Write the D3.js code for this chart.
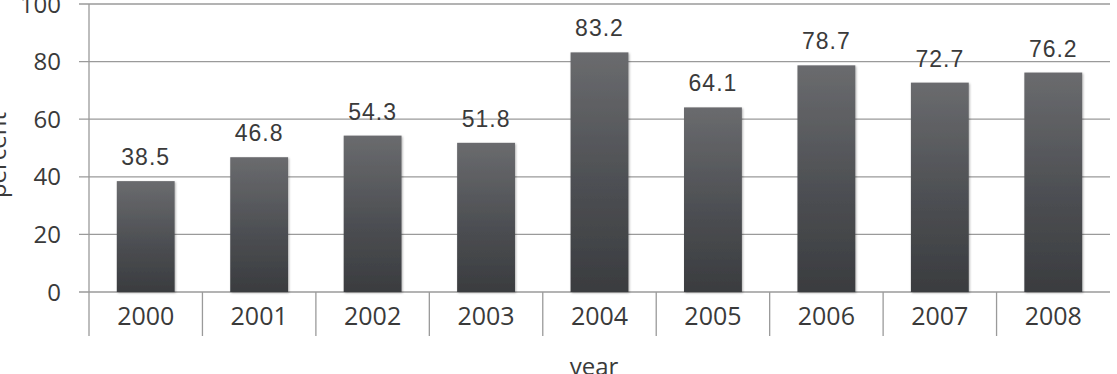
<!DOCTYPE html>
<html>
<head>
<meta charset="utf-8">
<script src="https://cdn.jsdelivr.net/npm/d3@7"></script>
<style>
  body { margin: 0; background: #fff; }
  svg text { fill: #3a3a3a; }
</style>
</head>
<body>
<div id="myChart"></div>
<script>
// values
var years = ['2000', '2001', '2002', '2003', '2004', '2005', '2006', '2007', '2008'];
var percent = [38.5, 46.8, 54.3, 51.8, 83.2, 64.1, 78.7, 72.7, 76.2];
var yTicks = [0, 20, 40, 60, 80, 100];

var data = years.map(function(y, i) { return { year: y, value: percent[i] }; });

var width = 1117, height = 374;
var plotLeft = 89, plotRight = 1110, plotTop = 4, plotBottom = 292;

var svg = d3.select("#myChart").append("svg")
    .attr("width", width)
    .attr("height", height);

var defs = svg.append("defs");
var grad = defs.append("linearGradient")
    .attr("id", "barGrad")
    .attr("x1", 0).attr("y1", 0).attr("x2", 0).attr("y2", 1);
grad.append("stop").attr("offset", "0%").attr("stop-color", "#6a6b6e");
grad.append("stop").attr("offset", "55%").attr("stop-color", "#4d4f53");
grad.append("stop").attr("offset", "100%").attr("stop-color", "#3a3c3f");

var shadow = defs.append("filter").attr("id", "shadow")
    .attr("x", "-10%").attr("y", "-10%").attr("width", "120%").attr("height", "120%");
shadow.append("feDropShadow")
    .attr("dx", 1).attr("dy", 1).attr("stdDeviation", 1.2)
    .attr("flood-color", "#000").attr("flood-opacity", 0.3);

var x = d3.scaleBand()
    .domain(years)
    .range([plotLeft, plotRight])
    .paddingInner(0.49)
    .paddingOuter(0.245);

var xSep = d3.scaleBand().domain(years).range([plotLeft, plotRight]);

var y = d3.scaleLinear()
    .domain([0, 100])
    .range([plotBottom, plotTop]);

// gridlines
svg.append("g")
  .selectAll("line")
  .data(yTicks)
  .enter()
  .append("line")
    .attr("x1", plotLeft - 10)
    .attr("x2", plotRight)
    .attr("y1", function(d) { return y(d); })
    .attr("y2", function(d) { return y(d); })
    .attr("stroke", "#9a9a9a")
    .attr("stroke-width", 1.3);

// y tick labels
svg.append("g")
  .selectAll("text")
  .data(yTicks)
  .enter()
  .append("text")
    .attr("x", 61)
    .attr("y", function(d) { return y(d); })
    .attr("dy", "0.36em")
    .attr("text-anchor", "end")
    .style("font-family", "'Open Sans', sans-serif")
    .style("font-size", "24px")
    .text(function(d) { return d; });

// left axis line
svg.append("line")
    .attr("x1", plotLeft).attr("x2", plotLeft)
    .attr("y1", plotTop).attr("y2", 336)
    .attr("stroke", "#9a9a9a")
    .attr("stroke-width", 1.3);

// category separators below the axis
svg.append("g")
  .selectAll("line")
  .data(years.slice(1))
  .enter()
  .append("line")
    .attr("x1", function(d) { return xSep(d); })
    .attr("x2", function(d) { return xSep(d); })
    .attr("y1", plotBottom)
    .attr("y2", 336)
    .attr("stroke", "#9a9a9a")
    .attr("stroke-width", 1.3);

// bars
svg.append("g")
  .selectAll("rect")
  .data(data)
  .enter()
  .append("rect")
    .attr("x", function(d) { return x(d.year); })
    .attr("width", x.bandwidth())
    .attr("y", function(d) { return y(d.value); })
    .attr("height", function(d) { return plotBottom - y(d.value); })
    .attr("fill", "url(#barGrad)")
    .attr("filter", "url(#shadow)");

// value labels
svg.append("g")
  .selectAll("text")
  .data(data)
  .enter()
  .append("text")
    .attr("x", function(d) { return x(d.year) + x.bandwidth() / 2; })
    .attr("y", function(d) { return y(d.value) - 16; })
    .attr("text-anchor", "middle")
    .style("font-family", "'Liberation Sans', Arial, sans-serif")
    .style("font-size", "23px")
    .style("letter-spacing", "1px")
    .text(function(d) { return d.value.toFixed(1); });

// year labels
svg.append("g")
  .selectAll("text")
  .data(years)
  .enter()
  .append("text")
    .attr("x", function(d) { return x(d) + x.bandwidth() / 2; })
    .attr("y", 316)
    .attr("dy", "0.36em")
    .attr("text-anchor", "middle")
    .style("font-family", "'Open Sans', sans-serif")
    .style("font-size", "25px")
    .text(function(d) { return d; });

// axis titles
svg.append("text")
    .attr("x", 594)
    .attr("y", 375)
    .attr("text-anchor", "middle")
    .style("font-family", "'Open Sans', sans-serif")
    .style("font-size", "24px")
    .text("year");

svg.append("text")
    .attr("transform", "translate(6," + 155 + ") rotate(-90)")
    .attr("text-anchor", "middle")
    .style("font-family", "'Open Sans', sans-serif")
    .style("font-size", "24px")
    .text("percent");
</script>
</body>
</html>
